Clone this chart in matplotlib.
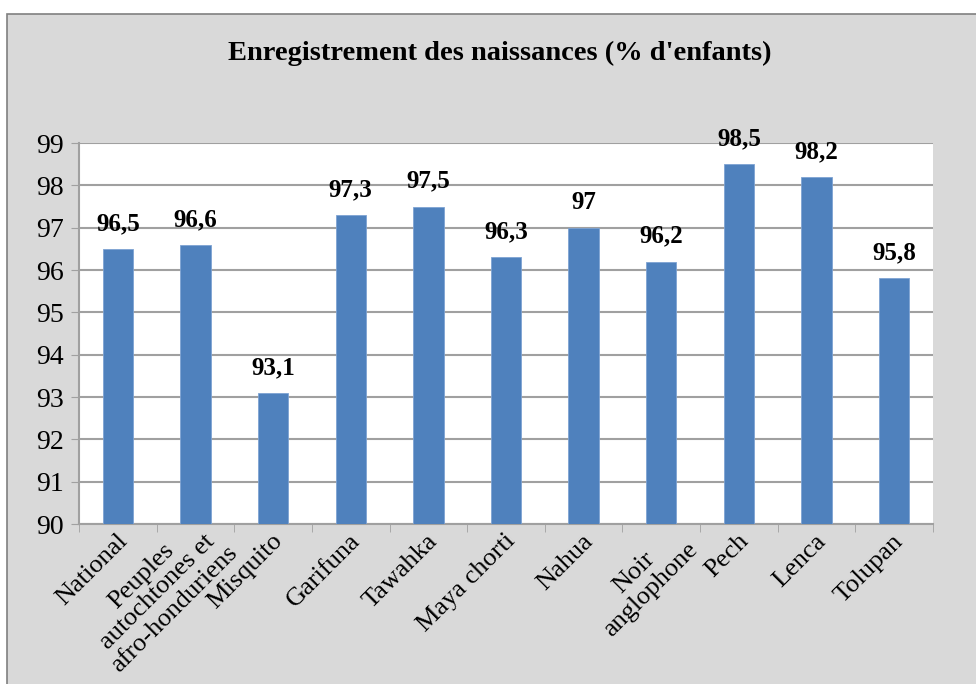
import matplotlib.pyplot as plt
from matplotlib.patches import Rectangle
from matplotlib.transforms import ScaledTranslation

plt.rcParams['font.family'] = ['Liberation Serif', 'DejaVu Serif']

categories = ['National', 'Peuples\nautochtones et\nafro-honduriens', 'Misquito', 'Garifuna',
              'Tawahka', 'Maya chorti', 'Nahua', 'Noir\nanglophone', 'Pech', 'Lenca', 'Tolupan']
values = [96.5, 96.6, 93.1, 97.3, 97.5, 96.3, 97.0, 96.2, 98.5, 98.2, 95.8]

fig = plt.figure(figsize=(9.76, 6.84), dpi=100)
fig.patch.set_facecolor('white')
# fond gris du graphique (style Excel)
fig.patches.append(Rectangle((7 / 976, -0.01), 1, 1.01 - 14 / 684, transform=fig.transFigure,
                             facecolor='#d9d9d9', edgecolor='#808080', linewidth=1.2, zorder=-1))

ax = fig.add_axes([79 / 976, 1 - 524 / 684, (933 - 79) / 976, (524 - 143) / 684])
ax.set_facecolor('white')

x = range(len(values))
ax.bar(x, values, width=0.39, bottom=0, color='#4f81bd', edgecolor='#7ea3d3', linewidth=0.6, zorder=3)

for xi, v in zip(x, values):
    lab = ('%g' % v).replace('.', ',')
    ax.annotate(lab, (xi, v), xytext=(0, 13.5), textcoords='offset points',
                ha='center', va='baseline', fontsize=18, fontweight='bold', zorder=4)

ax.set_ylim(90, 99)
# la zone de tracé coupe légèrement la dernière catégorie (comme dans l'original)
ax.set_xlim(-0.5, len(values) - 0.665)
ax.set_yticks(range(90, 100))
ax.tick_params(axis='y', labelsize=20, length=6, color='#a0a0a0', direction='out', pad=5)
ax.grid(axis='y', color='#a0a0a0', linewidth=1.5, zorder=0)
ax.set_axisbelow(True)

ax.set_xticks(x)
ax.set_xticklabels(categories, rotation=45, ha='right', va='center', rotation_mode='anchor',
                   fontsize=19, multialignment='center', linespacing=1.1)
ax.tick_params(axis='x', length=0, pad=10)
# petits traits entre les catégories
ax.set_xticks([i - 0.5 for i in range(len(values) + 1)], minor=True)
ax.tick_params(axis='x', which='minor', length=6, color='#a0a0a0', direction='out')

# décalage des étiquettes (plus fort pour celles sur plusieurs lignes)
for lbl in ax.get_xticklabels():
    n = lbl.get_text().count('\n')
    dx, dy = {0: (6, 0), 1: (25, 0), 2: (22, 5)}[n]
    lbl.set_transform(lbl.get_transform() + ScaledTranslation(dx / 100, dy / 100, fig.dpi_scale_trans))

for s in ['top', 'right']:
    ax.spines[s].set_visible(False)
for s in ['left', 'bottom']:
    ax.spines[s].set_color('#a0a0a0')
    ax.spines[s].set_linewidth(1.5)

fig.text(500 / 976, 1 - 53 / 684, "Enregistrement des naissances (% d'enfants)",
         ha='center', va='center', fontsize=20.5, fontweight='bold')

fig.savefig('out.png', dpi=100)
